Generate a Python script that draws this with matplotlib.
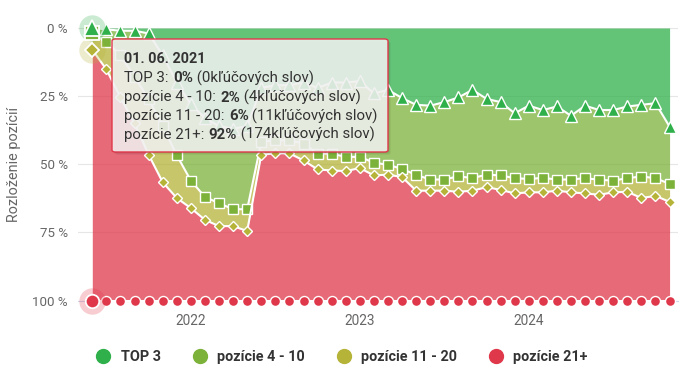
import numpy as np
import pandas as pd
import matplotlib
matplotlib.use("Agg")
import matplotlib.pyplot as plt
from matplotlib.patches import FancyBboxPatch
from matplotlib.lines import Line2D

plt.rcParams['font.family'] = ['Roboto', 'DejaVu Sans']

# ---------------- data ----------------
months = pd.date_range('2021-06-01', '2024-11-01', freq='MS')

series_names = ['TOP 3', 'pozície 4 - 10', 'pozície 11 - 20', 'pozície 21+']

top3 = [0, 0.5, 1, 1, 2, 10, 20, 28, 33, 36, 37, 36, 22, 21, 21, 20, 22, 20, 20, 19.5,
        24, 22.7, 25.7, 28.2, 28.5, 27.2, 25.5, 22.7, 26, 27.2, 31.3, 28.5, 30.1, 28.8,
        32.2, 28.5, 30.1, 30.1, 28.8, 28.2, 27.6, 36.2]
pos_4_10 = [2, 4.5, 9, 17, 24, 26, 26.7, 28, 29, 28.3, 29.5, 30.5, 19.8, 20.2, 20.2, 22.4,
            24.1, 26.1, 27.3, 27.8, 25.4, 27.5, 26, 25.7, 27.1, 28.4, 28.9, 32.4, 27.8,
            26.9, 23.8, 26.9, 24.9, 26.8, 23.4, 26.6, 25.6, 25.9, 26.3, 26.3, 27.5, 21]
pos_11_20 = [6, 10.2, 15.5, 17, 20.5, 20.6, 15.7, 10.1, 8.4, 8.4, 6.2, 8, 4.7, 4.8, 4.8,
             6.2, 5.8, 6.2, 5.2, 4.1, 4.7, 3.6, 3, 5.8, 4.1, 4.1, 5.7, 4.6, 4.6, 5.3, 5.6,
             4.9, 5.3, 4.1, 4.7, 5.6, 5.5, 4.3, 5, 7.9, 6.5, 6.6]
pos_21 = [92, 84.8, 74.5, 65, 53.5, 43.4, 37.6, 33.9, 29.6, 27.3, 27.3, 25.5, 53.5, 54, 54,
          51.4, 48.1, 47.7, 47.5, 48.6, 45.9, 46.2, 45.3, 40.3, 40.3, 40.3, 39.9, 40.3,
          41.6, 40.6, 39.3, 39.7, 39.7, 40.3, 39.7, 39.3, 38.8, 39.7, 39.9, 37.6, 38.4, 36.2]

tooltip_title = '01. 06. 2021'
tooltip_counts = [0, 4, 11, 174]

y_ticks = [0, 25, 50, 75, 100]
y_tick_labels = ['0 %', '25 %', '50 %', '75 %', '100 %']
y_label = 'Rozloženie pozícií'

colors = ['#2fb04a', '#7cb23a', '#b5b338', '#e0384b']
markers = ['^', 's', 'D', 'o']
msizes = [8.6, 7.4, 5.4, 7.2]

# ---------------- figure ----------------
W, H = 686, 372
fig = plt.figure(figsize=(W / 100, H / 100), dpi=100)


def fx(px):
    return px / W


def fy(py):
    return 1 - py / H


ax_left, ax_right, ax_top, ax_bottom = 78, 678, 28, 300.5
ax = fig.add_axes([fx(ax_left), fy(ax_bottom), (ax_right - ax_left) / W,
                   (ax_bottom - ax_top) / H])

x = np.arange(len(months))
vals = np.array([top3, pos_4_10, pos_11_20, pos_21], dtype=float)
cum = np.cumsum(vals, axis=0)
lower = np.vstack([np.zeros(len(x)), cum[:-1]])

for k in range(4):
    ax.fill_between(x, lower[k], cum[k], color=colors[k], alpha=0.75, lw=0, zorder=2)

for k in range(4):
    ax.plot(x, cum[k], color='white', lw=1.5, zorder=4 + k, clip_on=False,
            marker=markers[k], ms=msizes[k], mfc=colors[k], mec='white', mew=1.0)

# hover highlight on the first point
for k in [0, 2, 3]:
    ax.plot(x[:1], cum[k][:1], marker='o', ms=19, color=colors[k], alpha=0.25,
            mew=0, zorder=9, clip_on=False)
for k in range(4):
    ax.plot(x[:1], cum[k][:1], marker=markers[k], ms=msizes[k] * 1.35, mfc=colors[k],
            mec='white', mew=1.3, zorder=10 + k if k != 1 else 9.5, clip_on=False,
            linestyle='none')

ax.set_xlim((ax_left - 92.3) / 14.08, (ax_right - 92.3) / 14.08)
ax.set_ylim(100, 0)

ax.set_yticks(y_ticks)
ax.set_yticklabels(y_tick_labels)
year_pos = [i for i, d in enumerate(months) if d.month == 1]
ax.set_xticks(year_pos)
ax.set_xticklabels([str(months[i].year) for i in year_pos])

ax.tick_params(axis='y', length=0, pad=7.2, labelsize=9.6, labelcolor='#666666')
ax.tick_params(axis='x', length=3.6, width=0.8, color='#ccd6eb', pad=6.0,
               labelsize=9.8, labelcolor='#666666')
ax.set_ylabel(y_label, color='#666666', fontsize=10.4)
ax.yaxis.set_label_coords((21 - ax_left) / (ax_right - ax_left), 0.5)

for s in ['top', 'left', 'right']:
    ax.spines[s].set_visible(False)
ax.spines['bottom'].set_color('#ccd6eb')
ax.spines['bottom'].set_linewidth(0.8)
ax.yaxis.grid(True, color='#e6e6e6', lw=0.8, zorder=1)
ax.set_axisbelow(True)

# ---------------- legend ----------------
handles = [Line2D([], [], marker='o', linestyle='none', ms=10, color=c) for c in colors]
fig.legend(handles, series_names, loc='center', ncol=4, frameon=False,
           bbox_to_anchor=(fx(342), fy(357)), handlelength=1.0, handletextpad=0.7,
           columnspacing=2.2, prop={'weight': 'bold', 'size': 10.4},
           labelcolor='#333333')

# ---------------- tooltip ----------------
bx0, by0, bx1, by1 = 112, 39, 388, 152
for off, a in [(3, 0.04), (2, 0.06), (1, 0.08)]:
    fig.patches.append(FancyBboxPatch((fx(bx0 + off), fy(by1 + off)),
                                      (bx1 - bx0) / W, (by1 - by0) / H,
                                      boxstyle='round,pad=0,rounding_size=0.005',
                                      transform=fig.transFigure, facecolor='black',
                                      alpha=a, edgecolor='none', zorder=20))
fig.patches.append(FancyBboxPatch((fx(bx0), fy(by1)), (bx1 - bx0) / W, (by1 - by0) / H,
                                  boxstyle='round,pad=0,rounding_size=0.005',
                                  transform=fig.transFigure, facecolor='#f7f7f7',
                                  alpha=0.85, edgecolor='none', zorder=21))
fig.patches.append(FancyBboxPatch((fx(bx0), fy(by1)), (bx1 - bx0) / W, (by1 - by0) / H,
                                  boxstyle='round,pad=0,rounding_size=0.005',
                                  transform=fig.transFigure, facecolor='none',
                                  edgecolor=colors[3], lw=1.0, zorder=22))

fig.canvas.draw()
renderer = fig.canvas.get_renderer()
tx = 124.5
fig.text(fx(tx), fy(63.3), tooltip_title, fontsize=10.4, fontweight='bold',
         color='#333333', va='baseline', ha='left', zorder=30)
fs = 10.8
pcts = [round(v) for v in vals[:, 0]]
lines = []
for name, p, c in zip(series_names, pcts, tooltip_counts):
    lines.append([(name + ': ', 'normal'), (f'{p}%', 'bold'),
                  (f' ({c}kľúčových slov)', 'normal')])
baselines = [82.3, 101.5, 120.2, 138.7]
for parts, bl in zip(lines, baselines):
    cx = fx(tx)
    for s, w in parts:
        t = fig.text(cx, fy(bl), s, fontsize=fs, fontweight=w, color='#333333',
                     va='baseline', ha='left', zorder=30)
        bb = t.get_window_extent(renderer)
        cx = bb.x1 / fig.bbox.width

fig.savefig('out.png', dpi=100)
